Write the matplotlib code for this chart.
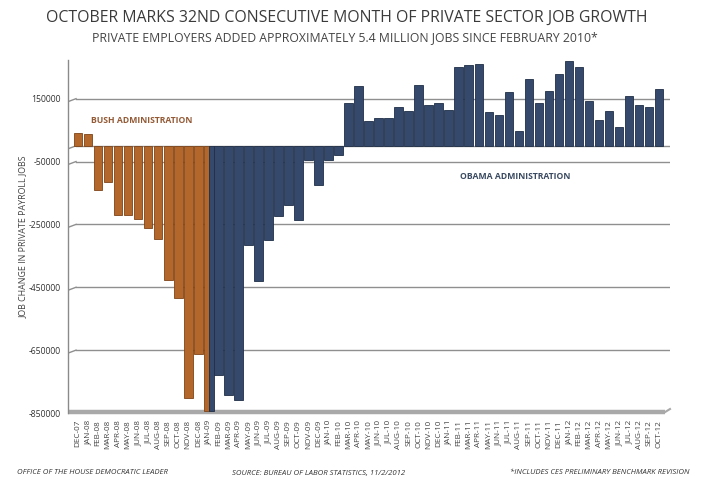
import matplotlib
matplotlib.use('Agg')
import matplotlib.pyplot as plt
import numpy as np

plt.rcParams['font.family'] = ['Open Sans', 'DejaVu Sans']

months = ['DEC-07', 'JAN-08', 'FEB-08', 'MAR-08', 'APR-08', 'MAY-08', 'JUN-08', 'JUL-08',
          'AUG-08', 'SEP-08', 'OCT-08', 'NOV-08', 'DEC-08', 'JAN-09', 'FEB-09', 'MAR-09',
          'APR-09', 'MAY-09', 'JUN-09', 'JUL-09', 'AUG-09', 'SEP-09', 'OCT-09', 'NOV-09',
          'DEC-09', 'JAN-10', 'FEB-10', 'MAR-10', 'APR-10', 'MAY-10', 'JUN-10', 'JUL-10',
          'AUG-10', 'SEP-10', 'OCT-10', 'NOV-10', 'DEC-10', 'JAN-11', 'FEB-11', 'MAR-11',
          'APR-11', 'MAY-11', 'JUN-11', 'JUL-11', 'AUG-11', 'SEP-11', 'OCT-11', 'NOV-11',
          'DEC-11', 'JAN-12', 'FEB-12', 'MAR-12', 'APR-12', 'MAY-12', 'JUN-12', 'JUL-12',
          'AUG-12', 'SEP-12', 'OCT-12']

# DEC-07 .. JAN-09
bush_values = [42000, 37000, -141000, -114000, -219000, -220000, -232000, -260000,
               -295000, -428000, -485000, -802000, -662000, -845000]

# JAN-09 .. OCT-12 (jan-09 shared with bush series)
obama_values = [-845000, -728000, -792000, -808000, -316000, -430000, -300000, -224000,
                -189000, -236000, -46000, -125000, -44000, -30000, 137000, 189000,
                79000, 88000, 88000, 125000, 111000, 192000, 131000, 136000,
                115000, 252000, 256000, 260000, 106000, 99000, 171000, 47000,
                211000, 135000, 173000, 229000, 269000, 250000, 142000, 81000,
                111000, 60000, 158000, 131000, 123000, 180000]

yticks = [150000, -50000, -250000, -450000, -650000, -850000]

orange = '#B3672B'
orange_edge = '#7E4418'
blue = '#34496B'
blue_edge = '#1F2F47'
grid_col = '#8f8f8f'

fig = plt.figure(figsize=(7.06, 4.8), dpi=100)
ax = fig.add_axes([68 / 706, 1 - 413 / 480, 602 / 706, 353 / 480])

x = np.arange(len(months))
nb = len(bush_values)

# bush bars, last one (jan-09) split with the obama series
ax.bar(x[:nb - 1], bush_values[:-1], width=0.86, color=orange, edgecolor=orange_edge, linewidth=0.6, zorder=3)
ax.bar(x[nb - 1] - 0.4, bush_values[-1], width=0.5, align='edge', color=orange, edgecolor=orange_edge, linewidth=0.6, zorder=3)
ax.bar(x[nb - 1] + 0.1, obama_values[0], width=0.47, align='edge', color=blue, edgecolor=blue_edge, linewidth=0.6, zorder=3)
ax.bar(x[nb:], obama_values[1:], width=0.86, color=blue, edgecolor=blue_edge, linewidth=0.6, zorder=3)

ax.set_xlim(-1.0, 59.08)
ax.set_ylim(-850000, 273000)

# gridlines with little 3d slant at the left
px = 3175  # value per pixel
for g in yticks + [0]:
    if g == -850000:
        continue
    ax.plot([-0.2, 59.08], [g, g], color=grid_col, lw=1.0, zorder=1)
    ax.plot([-1.0, -0.2], [g - 3 * px, g], color=grid_col, lw=1.0, zorder=1)
# floor
ax.plot([-1.0, 58.6], [-850000 + 1.0 * px, -850000 + 1.0 * px], color='#a9a9a9', lw=3.2, zorder=2,
        solid_capstyle='butt', clip_on=False)
ax.plot([58.6, 59.08], [-850000 + 1.0 * px, -850000 + 4 * px], color='#a9a9a9', lw=1.5, zorder=2, clip_on=False)

for s in ['top', 'right', 'bottom']:
    ax.spines[s].set_visible(False)
ax.spines['left'].set_color('#8a8a8a')
ax.spines['left'].set_linewidth(1.0)

ax.set_yticks(yticks)
ax.set_yticklabels([str(v) for v in yticks], fontsize=6.2, color='#333333')
ax.tick_params(axis='y', length=0, pad=5)

ax.set_xticks(x)
ax.set_xticklabels(months, rotation=90, fontsize=5.9, color='#444444')
ax.tick_params(axis='x', length=0, pad=5)

ax.set_ylabel('JOB CHANGE IN PRIVATE PAYROLL JOBS', fontsize=6.4, color='#444444', labelpad=1)

ax.text(1.3, 80000, 'BUSH ADMINISTRATION', fontsize=6.2, fontweight='bold', color='#935A36', va='center')
ax.text(38.1, -98000, 'OBAMA ADMINISTRATION', fontsize=6.2, fontweight='bold', color='#3A4A61', va='center')

fig.text(347 / 706, 1 - 18 / 480, 'OCTOBER MARKS 32ND CONSECUTIVE MONTH OF PRIVATE SECTOR JOB GROWTH',
         fontsize=11.4, color='#3a3a3a', ha='center', va='center')
fig.text(345 / 706, 1 - 38 / 480, 'PRIVATE EMPLOYERS ADDED APPROXIMATELY 5.4 MILLION JOBS SINCE FEBRUARY 2010*',
         fontsize=8.8, color='#444444', ha='center', va='center')

fig.text(17 / 706, 1 - 473 / 480, 'OFFICE OF THE HOUSE DEMOCRATIC LEADER', fontsize=5.6, style='italic',
         color='#333333', va='center')
fig.text(232 / 706, 1 - 473 / 480, 'SOURCE: BUREAU OF LABOR STATISTICS, 11/2/2012', fontsize=5.6, style='italic',
         color='#333333', va='center')
fig.text(690 / 706, 1 - 473 / 480, '*INCLUDES CES PRELIMINARY BENCHMARK REVISION', fontsize=5.6, style='italic',
         color='#333333', va='center', ha='right')

fig.savefig('out.png', dpi=100, facecolor='white')
